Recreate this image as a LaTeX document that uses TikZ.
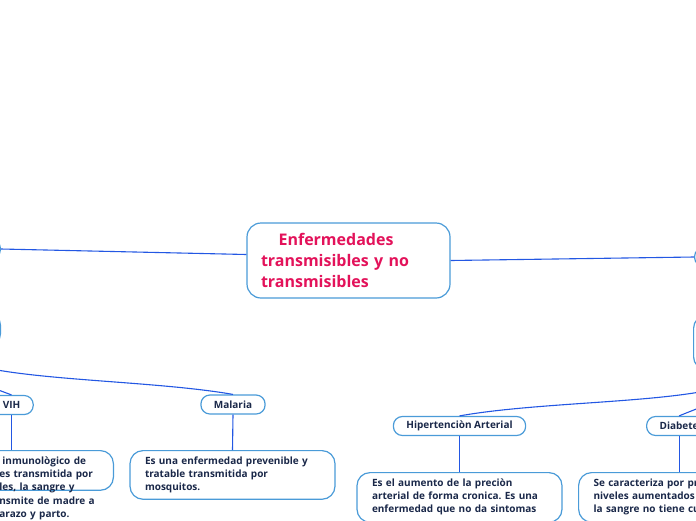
\documentclass[tikz,border=0pt]{standalone}
\usepackage{fontspec}
\setmainfont{Open Sans}
\usepackage{tikz}
\definecolor{boxblue}{HTML}{4A9BD8}
\definecolor{linkblue}{HTML}{2357E3}
\definecolor{titlered}{HTML}{E3125A}
\definecolor{navy}{HTML}{1A2849}
\frenchspacing

\begin{document}
\begin{tikzpicture}[x=1pt, y=-1pt,
		topic/.style={rectangle,draw=boxblue,line width=1.2pt,rounded corners=9pt,fill=white,text=navy,font=\bfseries\fontsize{10}{12}\selectfont,inner xsep=13pt,minimum height=19pt},
		note/.style={rectangle,draw=boxblue,line width=1.2pt,rounded corners=13pt,fill=white,text=navy,font=\bfseries\fontsize{10}{13.3}\selectfont,align=left,text width=175pt,inner xsep=15pt,inner ysep=6pt},
		link/.style={draw=linkblue,line width=1.1pt}]
		\useasboundingbox (0,0) rectangle (696,520);
		\clip (0,0) rectangle (696,520);

		\node[rectangle,draw=boxblue,line width=1.2pt,rounded corners=14pt,fill=white,text=titlered,font=\bfseries\fontsize{16}{21}\selectfont,align=left,text width=175pt,inner xsep=14pt,minimum height=75pt] (central) at (348.5,260.5) {\hspace*{1.1em}Enfermedades\\transmisibles y no\\transmisibles};

		\node[topic,anchor=east,minimum width=100pt] (leftA) at (1,249) {};
		\node[topic,anchor=east,minimum width=120pt,minimum height=33pt,rounded corners=12pt] (leftB) at (1,329.5) {};
		\node[topic,anchor=west,minimum width=100pt] (rightA) at (694,257) {};
		\node[topic,anchor=west,minimum width=120pt,minimum height=53pt,rounded corners=12pt] (rightB) at (693,342.5) {};

		\node[topic] (vih) at (11.5,405) {VIH};
		\node[topic] (malaria) at (233,404.5) {Malaria};
		\node[topic] (hiper) at (459.5,426) {Hipertenciòn Arterial};
		\node[topic,anchor=west] (diab) at (646,426) {Diabete};

		\node[note,anchor=north east,text width=100pt,inner xsep=14pt,text depth=20pt] (viht) at (114,450) {\hspace*{3pt}inmunològico de\\es transmitida por\\les, la sangre y\\nsmite de madre a\\arazo y parto.};
		\node[note,anchor=north] (malariat) at (232.5,450) {Es una enfermedad prevenible y\\tratable transmitida por\\mosquitos.};
		\node[note,anchor=north,text depth=30pt] (hipert) at (459.5,472) {Es el aumento de la preciòn\\arterial de forma cronica. Es una\\enfermedad que no da sintomas};
		\node[note,anchor=north west,text depth=30pt] (diabt) at (578,472) {Se caracteriza por pr\\niveles aumentados\\la sangre no tiene cu};

		\draw[link] ([yshift=6pt]central.west) -- (leftA.east);
		\draw[link] (central.east) -- (rightA.west);
		\draw[link] (leftB.south) .. controls (-45,375) and (-15,385) .. (vih.north);
		\draw[link] (leftB.south) .. controls (-41,382) and (133,377) .. (malaria.north);
		\draw[link] (rightB.south) .. controls (735,405) and (560,398) .. (hiper.north);
		\draw[link] (rightB.south) .. controls (740,395) and (705,405) .. (diab.north);
		\draw[link] (vih.south) -- (vih.south |- viht.north);
		\draw[link] (malaria.south) -- (malariat.north);
		\draw[link] (hiper.south) -- (hipert.north);
		\draw[link] (diab.south) -- (diab.south |- diabt.north);
\end{tikzpicture}
\end{document}
